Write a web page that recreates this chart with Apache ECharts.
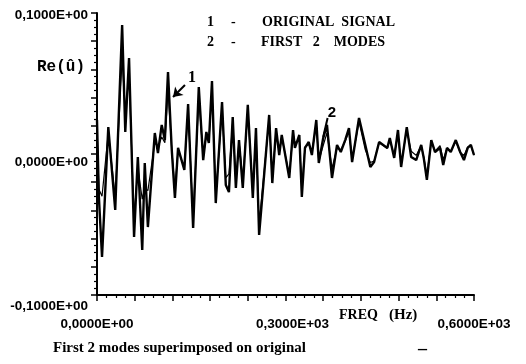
<!DOCTYPE html>
<html>
<head>
<meta charset="utf-8">
<script src="https://cdn.jsdelivr.net/npm/echarts@6/dist/echarts.min.js"></script>
<style>html,body{margin:0;padding:0;background:#fff}#c{width:526px;height:364px}</style>
</head>
<body>
<div id="c"></div>
<script>
// Frequency (Hz) of each traced vertex
const freq = [0,3,8,18,29,40,45,51,59,65,72,76,81,92,97,103,108,113,119,124,129,139,145,153,162,169,174,178,183,189,199,205,210,216,221,226,232,240,248,253,258,274,279,285,290,294,306,312,315,322,326,331,337,342,349,353,360,366,374,382,388,395,401,406,417,427,435,441,449,462,466,473,479,484,493,500,508,516,520,525,532,538,546,551,557,563,571,578,584,590,595,600];
// Curve 1 - original signal, Re(u)
const original = [0.0241,-0.0305,-0.0730,0.0191,-0.0397,0.0915,0.0156,0.0681,-0.0589,-0.0021,-0.0681,-0.0064,-0.0518,0.0149,0.0007,0.0206,0.0099,0.0582,0.0028,-0.0312,0.0043,-0.0113,0.0355,-0.0525,0.0475,-0.0043,0.0156,0.0078,0.0518,-0.0348,0.0369,-0.0220,-0.0270,0.0262,-0.0241,0.0099,-0.0241,0.0348,-0.0312,0.0184,-0.0574,0.0277,-0.0206,0.0184,-0.0007,0.0135,-0.0170,0.0170,0.0043,0.0135,-0.0305,0.0043,0.0085,-0.0007,0.0241,-0.0064,0.0113,0.0206,-0.0170,0.0064,0.0014,0.0099,0.0184,-0.0057,0.0255,0.0064,-0.0092,-0.0057,0.0085,0.0043,0.0113,-0.0028,0.0170,-0.0092,0.0191,-0.0021,-0.0043,0.0064,-0.0028,-0.0184,0.0099,0.0014,0.0043,-0.0078,0.0043,0.0014,0.0099,0.0014,-0.0043,0.0043,0.0064,-0.0007];
// Curve 2 - first 2 modes
const modes = [0.0200,-0.0250,-0.0300,0.0150,-0.0300,0.0680,0.0300,0.0550,-0.0450,-0.0100,-0.0320,-0.0240,-0.0260,0.0080,0.0050,0.0120,0.0080,0.0450,0.0030,-0.0250,0.0030,-0.0100,0.0300,-0.0450,0.0400,-0.0020,0.0130,0.0090,0.0450,-0.0300,0.0320,-0.0170,-0.0140,0.0230,-0.0200,0.0090,-0.0180,0.0300,-0.0270,0.0160,-0.0500,0.0250,-0.0180,0.0160,0.0010,0.0120,-0.0150,0.0140,0.0080,0.0100,-0.0250,0.0050,0.0070,0.0010,0.0210,-0.0050,0.0060,0.0150,-0.0100,0.0040,0.0030,0.0090,0.0160,-0.0040,0.0230,0.0030,-0.0060,-0.0050,0.0080,0.0040,0.0100,-0.0010,0.0150,-0.0070,0.0170,0.0020,-0.0010,0.0060,-0.0020,-0.0150,0.0090,0.0020,0.0060,-0.0040,0.0040,0.0020,0.0090,0.0010,-0.0010,0.0050,0.0060,-0.0010];
// Tick labels
const xTickValues = [0, 300, 600];
const xTickLabels = ['0,0000E+00', '0,3000E+03', '0,6000E+03'];
const yTickValues = [-0.1, 0, 0.1];
const yTickLabels = ['-0,1000E+00', '0,0000E+00', '0,1000E+00'];
// Curve annotations (data coordinates)
const arrow1 = [[140, 0.0489], [121, 0.0404]];
const tag1 = [151, 0.0539];
const line2 = [[367, 0.0255], [360, 0.0121]];
const tag2 = [374, 0.0291];

const chart = echarts.init(document.getElementById('c'), null, {renderer: 'canvas'});
const labFont = '"Liberation Sans", Arial, sans-serif';
const serif = '"Liberation Serif", "DejaVu Serif", serif';
const mono = '"Liberation Mono", "DejaVu Sans Mono", monospace';
function near(a, b) { return Math.abs(a - b) < 1e-9; }
const labStyle = {fontFamily: labFont, fontSize: 13.5, fontWeight: 'bold', color: '#000'};

const option = {
  animation: false,
  backgroundColor: '#fff',
  grid: {left: 97, top: 13, width: 377, height: 282, containLabel: false},
  xAxis: {
    type: 'value', min: 0, max: 600, interval: 60,
    axisLine: {onZero: false, lineStyle: {color: '#000', width: 2}},
    axisTick: {show: true, inside: false, length: 6, lineStyle: {color: '#000', width: 1.5}},
    minorTick: {show: true, splitNumber: 4, length: 3, lineStyle: {color: '#000', width: 1.2}},
    splitLine: {show: false},
    axisLabel: {
      margin: 22, color: '#000',
      formatter: function (v) {
        for (let i = 0; i < xTickValues.length; i++) {
          if (near(v, xTickValues[i])) return '{x' + i + '|' + xTickLabels[i] + '}';
        }
        return '';
      },
      rich: {
        x0: Object.assign({}, labStyle),
        x1: Object.assign({padding: [0, 0, 0, 14]}, labStyle),
        x2: Object.assign({}, labStyle)
      }
    }
  },
  yAxis: {
    type: 'value', min: -0.1, max: 0.1, interval: 0.02,
    axisLine: {show: true, onZero: false, lineStyle: {color: '#000', width: 2}},
    axisTick: {show: true, inside: false, length: 6, lineStyle: {color: '#000', width: 1.5}},
    minorTick: {show: true, splitNumber: 4, length: 3, lineStyle: {color: '#000', width: 1.2}},
    splitLine: {show: false},
    axisLabel: {
      margin: 9, color: '#000',
      formatter: function (v) {
        for (let i = 0; i < yTickValues.length; i++) {
          if (near(v, yTickValues[i])) return '{y' + i + '|' + yTickLabels[i] + '}';
        }
        return '';
      },
      rich: {
        y0: Object.assign({padding: [22, 0, 0, 0]}, labStyle),
        y1: Object.assign({padding: [16, 0, 0, 0]}, labStyle),
        y2: Object.assign({padding: [4, 0, 0, 0]}, labStyle)
      }
    }
  },
  series: [
    {
      name: 'ORIGINAL SIGNAL', type: 'line', showSymbol: false, symbol: 'none',
      data: freq.map((f, i) => [f, original[i]]),
      lineStyle: {color: '#000', width: 2.4}, z: 2
    },
    {
      name: 'FIRST 2 MODES', type: 'line', showSymbol: false, symbol: 'none',
      data: freq.map((f, i) => [f, modes[i]]),
      lineStyle: {color: '#000', width: 1.2}, z: 3,
      markLine: {
        silent: true, animation: false,
        lineStyle: {color: '#000', width: 2, type: 'solid'},
        label: {show: false},
        data: [
          [{coord: arrow1[0], symbol: 'none'}, {coord: arrow1[1], symbol: 'arrow', symbolSize: 9}],
          [{coord: line2[0], symbol: 'none'}, {coord: line2[1], symbol: 'none'}]
        ]
      },
      markPoint: {
        silent: true, animation: false, symbol: 'circle', symbolSize: 0,
        label: {show: true, color: '#000', fontWeight: 'bold', position: 'inside'},
        data: [
          {coord: tag1, value: '1', label: {formatter: '1', fontFamily: serif, fontSize: 16}},
          {coord: tag2, value: '2', label: {formatter: '2', fontFamily: labFont, fontSize: 15}}
        ]
      }
    }
  ],
  graphic: [
    {type: 'text', x: 207, y: 22, style: {text: '1', font: 'bold 14px ' + serif, fill: '#000', verticalAlign: 'middle'}},
    {type: 'text', x: 231, y: 22, style: {text: '-', font: 'bold 14px ' + serif, fill: '#000', verticalAlign: 'middle'}},
    {type: 'text', x: 262, y: 22, style: {text: 'ORIGINAL  SIGNAL', font: 'bold 14px ' + serif, fill: '#000', verticalAlign: 'middle'}},
    {type: 'text', x: 207, y: 42, style: {text: '2', font: 'bold 14px ' + serif, fill: '#000', verticalAlign: 'middle'}},
    {type: 'text', x: 231, y: 42, style: {text: '-', font: 'bold 14px ' + serif, fill: '#000', verticalAlign: 'middle'}},
    {type: 'text', x: 261, y: 42, style: {text: 'FIRST   2    MODES', font: 'bold 14px ' + serif, fill: '#000', verticalAlign: 'middle'}},
    {type: 'text', x: 37, y: 67, style: {text: 'Re(û)', font: 'bold 16px ' + mono, fill: '#000', verticalAlign: 'middle'}},
    {type: 'text', x: 339, y: 315, style: {text: 'FREQ', font: 'bold 14px ' + serif, fill: '#000', verticalAlign: 'middle'}},
    {type: 'text', x: 389, y: 315, style: {text: '(Hz)', font: 'bold 15px ' + serif, fill: '#000', verticalAlign: 'middle'}},
    {type: 'text', x: 53, y: 348, style: {text: 'First 2 modes superimposed on original', font: 'bold 15px ' + serif, fill: '#000', verticalAlign: 'middle'}},
    {type: 'text', x: 418, y: 349, style: {text: '–', font: 'bold 18px ' + serif, fill: '#000', verticalAlign: 'middle'}}
  ]
};
chart.setOption(option);
</script>
</body>
</html>
